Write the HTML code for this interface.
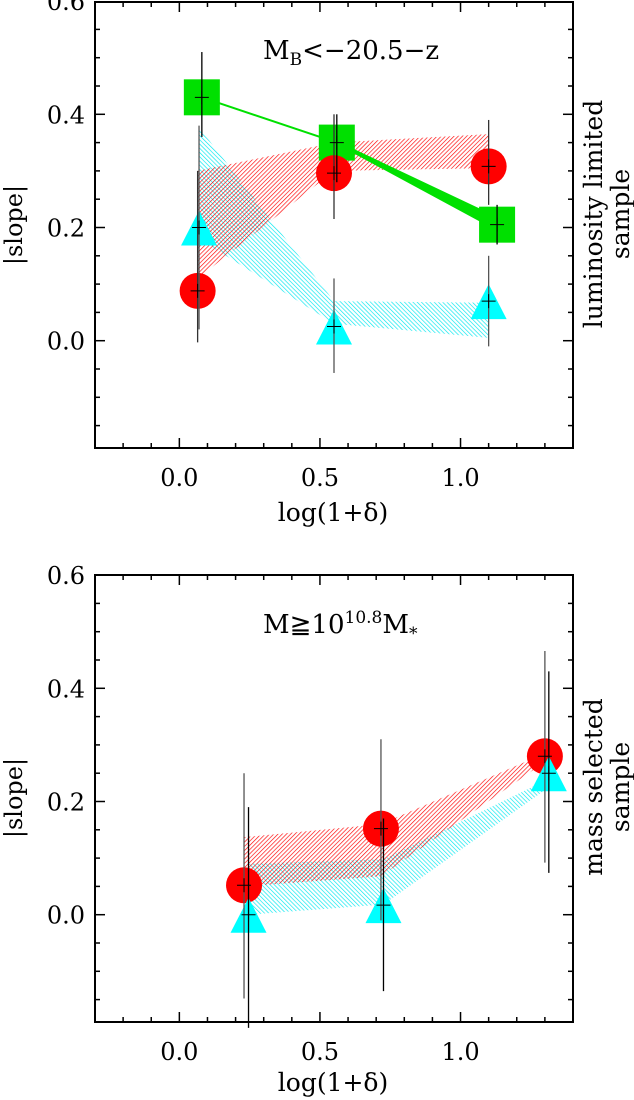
<!DOCTYPE html>
<html><head><meta charset="utf-8">
<style>
html,body{margin:0;padding:0;background:#fff;}
svg{display:block;font-family:"DejaVu Serif","Liberation Serif",serif;}
</style></head>
<body>
<svg id="chart" width="634" height="1100" viewBox="0 0 634 1100" xmlns="http://www.w3.org/2000/svg">
<defs>
<pattern id="hatchRed" patternUnits="userSpaceOnUse" width="3" height="3" patternTransform="rotate(45)">
<line x1="0" y1="0" x2="0" y2="3" stroke="#ff0000" stroke-width="1.3"/>
</pattern>
<pattern id="hatchCyan" patternUnits="userSpaceOnUse" width="3" height="3" patternTransform="rotate(-45)">
<line x1="0" y1="0" x2="0" y2="3" stroke="#00e8f0" stroke-width="1.3"/>
</pattern>
</defs>
<g id="top"></g>
<g id="bot"></g>
</svg>
<script>
// ---- Top panel data ----
const topRedX = [0.065, 0.55, 1.10];
const topRedY = [0.088, 0.296, 0.308];
const topRedErrLo = [-0.003, 0.215, 0.24];
const topRedErrHi = [0.30, 0.40, 0.39];
const topRedBandHi = [0.30, 0.35, 0.365];
const topRedBandLo = [0.11, 0.30, 0.305];
const topGreenX = [0.08, 0.56, 1.13];
const topGreenY = [0.43, 0.35, 0.205];
const topGreenErrLo = [0.36, 0.28, 0.17];
const topGreenErrHi = [0.51, 0.40, 0.24];
const topGreenBandHi = [0.43, 0.352, 0.218];
const topGreenBandLo = [0.43, 0.348, 0.195];
const topCyanX = [0.07, 0.55, 1.10];
const topCyanY = [0.20, 0.025, 0.07];
const topCyanErrLo = [0.02, -0.057, -0.01];
const topCyanErrHi = [0.38, 0.11, 0.15];
const topCyanBandHi = [0.377, 0.07, 0.067];
const topCyanBandLo = [0.18, 0.03, 0.005];
// ---- Bottom panel data ----
const botRedX = [0.23, 0.717, 1.30];
const botRedY = [0.052, 0.152, 0.28];
const botRedErrLo = [-0.148, -0.01, 0.092];
const botRedErrHi = [0.25, 0.31, 0.466];
const botRedBandHi = [0.137, 0.16, 0.285];
const botRedBandLo = [0.05, 0.068, 0.27];
const botCyanX = [0.246, 0.726, 1.314];
const botCyanY = [0.0, 0.017, 0.25];
const botCyanErrLo = [-0.2, -0.135, 0.074];
const botCyanErrHi = [0.19, 0.17, 0.43];
const botCyanBandHi = [0.09, 0.098, 0.24];
const botCyanBandLo = [0.0, 0.018, 0.225];
// ---- Axis ticks ----
const xTickVals = [0.0, 0.5, 1.0];
const xTickLabels = ["0.0", "0.5", "1.0"];
const yTickVals = [0.6, 0.4, 0.2, 0.0];
const yTickLabels = ["0.6", "0.4", "0.2", "0.0"];

const NS = "http://www.w3.org/2000/svg";
function mk(parent, tag, attrs, text){
  const e = document.createElementNS(NS, tag);
  for (const k in attrs) e.setAttribute(k, attrs[k]);
  if (text !== undefined) e.textContent = text;
  parent.appendChild(e);
  return e;
}
const XMIN=-0.3, XMAX=1.4, L=95, R=573;
function sx(v){ return L + (v - XMIN) / (XMAX - XMIN) * (R - L); }

function panel(g, y0, top, bottom){
  const sy = v => y0 - v * 566;
  const frame = mk(g, 'rect', {x:L, y:top, width:R-L, height:bottom-top, fill:'none', stroke:'#000', 'stroke-width':2});
  
  
  for (let i = -2; i <= 13; i++){
    const v = i / 10, x = sx(v);
    const major = (i % 5 === 0);
    const len = major ? 10 : 5;
    const t1 = mk(g, 'line', {x1:x, y1:bottom, x2:x, y2:bottom-len, stroke:'#000', 'stroke-width':1.5});
    
    
    mk(g, 'line', {x1:x, y1:top, x2:x, y2:top+len, stroke:'#000', 'stroke-width':1.5});
  }
  for (let i = -3; i <= 12; i++){
    const v = i * 0.05, y = sy(v);
    if (y < top + 1 || y > bottom - 1) continue;
    const major = (i % 4 === 0);
    const len = major ? 10 : 5;
    const t = mk(g, 'line', {x1:L, y1:y, x2:L+len, y2:y, stroke:'#000', 'stroke-width':1.5});
    
    
    mk(g, 'line', {x1:R, y1:y, x2:R-len, y2:y, stroke:'#000', 'stroke-width':1.5});
  }
  xTickVals.forEach((v, i) => {
    const t = mk(g, 'text', {x:sx(v), y:bottom+38, 'font-size':24, 'text-anchor':'middle'}, xTickLabels[i]);
    
    
  });
  yTickVals.forEach((v, i) => {
    const t = mk(g, 'text', {x:85, y:sy(v)+9, 'font-size':24, 'text-anchor':'end'}, yTickLabels[i]);
    
    
  });
  return sy;
}
function band(g, xs, hi, lo, fill, sy, name){
  const pts = [];
  xs.forEach((x, i) => pts.push(sx(x) + ',' + sy(hi[i])));
  for (let i = xs.length - 1; i >= 0; i--) pts.push(sx(xs[i]) + ',' + sy(lo[i]));
  const p = mk(g, 'polygon', {points:pts.join(' '), fill:fill, stroke:fill.startsWith('url') ? 'none' : fill});
  
  
  return p;
}
function errs(g, xs, lo, hi, sy, color){
  xs.forEach((x, i) => {
    const e = mk(g, 'line', {x1:sx(x), y1:sy(lo[i]), x2:sx(x), y2:sy(hi[i]), stroke:color, 'stroke-width':1.3});
    
    
  });
}
function crosses(g, xs, ys, sy){
  xs.forEach((x, i) => {
    const cx = sx(x), cy = sy(ys[i]);
    mk(g, 'path', {d:`M${cx-7},${cy}H${cx+7}M${cx},${cy-7}V${cy+7}`, stroke:'#000', 'stroke-width':1, fill:'none'});
  });
}
function circles(g, xs, ys, sy){
  xs.forEach((x, i) => {
    const c = mk(g, 'circle', {cx:sx(x), cy:sy(ys[i]), r:18, fill:'#ff0000'});
    
    
  });
}
function tris(g, xs, ys, sy){
  xs.forEach((x, i) => {
    const cx = sx(x), cy = sy(ys[i]);
    const t = mk(g, 'polygon', {points:`${cx},${cy-17} ${cx+18},${cy+18} ${cx-18},${cy+18}`, fill:'#00ffff'});
    
    
  });
}
function squares(g, xs, ys, sy){
  xs.forEach((x, i) => {
    const s = mk(g, 'rect', {x:sx(x)-18, y:sy(ys[i])-18, width:36, height:36, fill:'#00e000'});
    
    
  });
}
function label(g, x, y, rot, lines, name, size){
  const t = mk(g, 'text', {x:x, y:y, 'font-size':size || 25, 'text-anchor':'middle', transform:`rotate(${rot} ${x} ${y})`});
  
  
  lines.forEach((s, i) => mk(t, 'tspan', {x:x, dy: i === 0 ? 0 : 27}, s));
}

// ---- Top panel ----
const gt = document.getElementById('top');
const syT = panel(gt, 340.7, 2, 448);
band(gt, topCyanX, topCyanBandHi, topCyanBandLo, 'url(#hatchCyan)', syT, 'cyan-band');
band(gt, topRedX, topRedBandHi, topRedBandLo, 'url(#hatchRed)', syT, 'red-band');
const gl = mk(gt, 'line', {x1:sx(topGreenX[0]), y1:syT(topGreenY[0]), x2:sx(topGreenX[1]), y2:syT(topGreenY[1]), stroke:'#00e000', 'stroke-width':2});


band(gt, topGreenX.slice(1), topGreenBandHi.slice(1), topGreenBandLo.slice(1), '#00e000', syT, 'green-band');
squares(gt, topGreenX, topGreenY, syT);
circles(gt, topRedX, topRedY, syT);
tris(gt, topCyanX, topCyanY, syT);
errs(gt, topRedX, topRedErrLo, topRedErrHi, syT, '#333');
errs(gt, topGreenX, topGreenErrLo, topGreenErrHi, syT, '#000');
errs(gt, topCyanX, topCyanErrLo, topCyanErrHi, syT, '#555');
crosses(gt, topRedX, topRedY, syT);
crosses(gt, topGreenX, topGreenY, syT);
crosses(gt, topCyanX, topCyanY, syT);
const tt = mk(gt, 'text', {x:263, y:59, 'font-size':26});


mk(tt, 'tspan', {}, 'M');
mk(tt, 'tspan', {dy:6, 'font-size':17}, 'B');
mk(tt, 'tspan', {dy:-6}, '<\u221220.5\u2212z');
label(gt, 22, 225, -90, ['|slope|'], 'y-axis-title', 24);
label(gt, 602, 214, -90, ['luminosity  limited', 'sample'], 'top-panel-side-label');
label(gt, 333, 521, 0, ['log(1+\u03b4)'], 'x-axis-title');

// ---- Bottom panel ----
const gb = document.getElementById('bot');
const syB = panel(gb, 914.7, 575, 1022);
band(gb, botCyanX, botCyanBandHi, botCyanBandLo, 'url(#hatchCyan)', syB, 'cyan-band');
band(gb, botRedX, botRedBandHi, botRedBandLo, 'url(#hatchRed)', syB, 'red-band');
circles(gb, botRedX, botRedY, syB);
tris(gb, botCyanX, botCyanY, syB);
errs(gb, botRedX, botRedErrLo, botRedErrHi, syB, '#555');
errs(gb, botCyanX, botCyanErrLo, botCyanErrHi, syB, '#000');
crosses(gb, botRedX, botRedY, syB);
crosses(gb, botCyanX, botCyanY, syB);
const bt = mk(gb, 'text', {x:263, y:633, 'font-size':26});


mk(bt, 'tspan', {}, 'M\u226710');
mk(bt, 'tspan', {dy:-10, 'font-size':17}, '10.8');
mk(bt, 'tspan', {dy:10}, 'M');
mk(bt, 'tspan', {dy:6, 'font-size':17}, '*');
label(gb, 22, 798, -90, ['|slope|'], 'y-axis-title', 24);
label(gb, 602, 787, -90, ['mass  selected', 'sample'], 'bottom-panel-side-label');
label(gb, 333, 1091, 0, ['log(1+\u03b4)'], 'x-axis-title');
</script>
</body></html>
